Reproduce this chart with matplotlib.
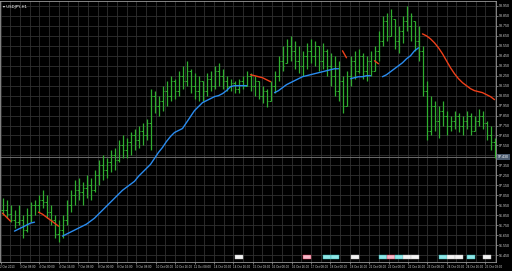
import matplotlib
matplotlib.use("Agg")
import matplotlib.pyplot as plt
import matplotlib.transforms as mtransforms
from matplotlib.patches import Rectangle
import numpy as np

symbol = 'USDJPY,H1'

# bar highs / lows / closes, oldest first
highs = [97.02, 97.00, 96.95, 96.90, 96.95, 96.85, 96.92, 96.98, 97.00, 97.05,
         97.10, 97.05, 96.95, 96.85, 96.80, 96.85, 97.00, 97.10, 97.20, 97.22,
         97.18, 97.25, 97.22, 97.30, 97.40, 97.45, 97.42, 97.50, 97.52, 97.60,
         97.65, 97.62, 97.68, 97.72, 97.75, 97.78, 97.82, 98.12, 98.10, 98.05,
         98.15, 98.20, 98.25, 98.22, 98.30, 98.35, 98.40, 98.32, 98.28, 98.25,
         98.20, 98.28, 98.30, 98.35, 98.38, 98.32, 98.25, 98.22, 98.20, 98.22,
         98.25, 98.30, 98.28, 98.25, 98.20, 98.15, 98.12, 98.20, 98.30, 98.45,
         98.55, 98.62, 98.65, 98.60, 98.55, 98.50, 98.58, 98.62, 98.60, 98.55,
         98.58, 98.52, 98.48, 98.45, 98.40, 98.25, 98.30, 98.45, 98.50, 98.52,
         98.48, 98.45, 98.50, 98.55, 98.70, 98.85, 98.88, 98.92, 98.82, 98.75,
         98.85, 98.95, 98.88, 98.80, 98.75, 98.55, 98.20, 98.05, 98.00, 97.95,
         98.00, 97.90, 97.85, 97.90, 97.88, 97.85, 97.90, 97.88, 97.85, 97.92,
         97.90, 97.80, 97.75, 97.62]
lows = [96.85, 96.82, 96.78, 96.72, 96.75, 96.62, 96.68, 96.78, 96.85, 96.88,
        96.92, 96.82, 96.75, 96.62, 96.58, 96.62, 96.75, 96.88, 96.95, 97.00,
        96.95, 97.02, 97.00, 97.08, 97.15, 97.20, 97.22, 97.28, 97.30, 97.38,
        97.42, 97.42, 97.45, 97.50, 97.52, 97.55, 97.60, 97.50, 97.88, 97.85,
        97.90, 97.95, 98.00, 98.02, 98.05, 98.12, 98.15, 98.08, 98.02, 98.00,
        98.00, 98.05, 98.10, 98.12, 98.15, 98.12, 98.10, 98.10, 98.08, 98.08,
        98.12, 98.15, 98.10, 98.05, 98.02, 97.98, 97.94, 98.00, 98.08, 98.20,
        98.30, 98.38, 98.40, 98.32, 98.28, 98.25, 98.32, 98.38, 98.35, 98.30,
        98.32, 98.25, 98.15, 98.05, 98.00, 97.88, 97.95, 98.15, 98.22, 98.28,
        98.22, 98.20, 98.25, 98.30, 98.40, 98.55, 98.60, 98.65, 98.52, 98.48,
        98.58, 98.70, 98.60, 98.50, 98.40, 98.05, 97.60, 97.65, 97.70, 97.62,
        97.75, 97.65, 97.70, 97.72, 97.68, 97.65, 97.72, 97.65, 97.70, 97.75,
        97.72, 97.60, 97.50, 97.42]
closes = [96.90, 96.86, 96.80, 96.78, 96.80, 96.70, 96.85, 96.95, 96.95, 97.00,
          96.98, 96.88, 96.80, 96.66, 96.70, 96.80, 96.95, 97.05, 97.10, 97.08,
          97.12, 97.15, 97.10, 97.25, 97.35, 97.30, 97.38, 97.45, 97.40, 97.55,
          97.50, 97.58, 97.65, 97.60, 97.70, 97.65, 97.78, 98.05, 97.95, 98.00,
          98.10, 98.05, 98.20, 98.10, 98.25, 98.20, 98.30, 98.15, 98.10, 98.20,
          98.10, 98.22, 98.15, 98.30, 98.25, 98.20, 98.15, 98.18, 98.12, 98.20,
          98.15, 98.25, 98.15, 98.20, 98.05, 98.10, 98.00, 98.15, 98.25, 98.40,
          98.35, 98.55, 98.50, 98.40, 98.35, 98.45, 98.50, 98.45, 98.55, 98.40,
          98.50, 98.35, 98.25, 98.10, 98.20, 97.95, 98.25, 98.40, 98.30, 98.45,
          98.30, 98.40, 98.30, 98.50, 98.60, 98.80, 98.65, 98.85, 98.60, 98.70,
          98.80, 98.75, 98.85, 98.60, 98.50, 98.10, 97.70, 97.95, 97.80, 97.90,
          97.85, 97.75, 97.80, 97.85, 97.75, 97.80, 97.85, 97.70, 97.80, 97.85,
          97.78, 97.65, 97.58, 97.43]

# trend indicator value for every bar; red where it is in a down run
trend_line = [96.87, 96.83, 96.79, 96.69, 96.71, 96.73, 96.75, 96.77, 96.78, 96.88,
              96.86, 96.83, 96.80, 96.77, 96.74, 96.64, 96.66, 96.68, 96.70, 96.72,
              96.74, 96.76, 96.79, 96.82, 96.86, 96.90, 96.94, 96.98, 97.02, 97.06,
              97.10, 97.13, 97.16, 97.19, 97.24, 97.28, 97.32, 97.36, 97.42, 97.48,
              97.53, 97.59, 97.64, 97.68, 97.70, 97.72, 97.78, 97.84, 97.90, 97.94,
              97.98, 98.00, 98.02, 98.04, 98.05, 98.07, 98.10, 98.14, 98.15, 98.15,
              98.15, 98.15, 98.26, 98.25, 98.24, 98.23, 98.21, 98.19, 98.08, 98.10,
              98.13, 98.16, 98.18, 98.20, 98.22, 98.24, 98.25, 98.26, 98.27, 98.28,
              98.29, 98.30, 98.31, 98.32, 98.32, 98.50, 98.43, 98.22, 98.23, 98.24,
              98.24, 98.25, 98.25, 98.40, 98.37, 98.24, 98.26, 98.29, 98.32, 98.35,
              98.38, 98.42, 98.45, 98.50, 98.53, 98.67, 98.65, 98.62, 98.58, 98.53,
              98.47, 98.40, 98.33, 98.27, 98.22, 98.18, 98.15, 98.12, 98.10, 98.09,
              98.08, 98.06, 98.04, 98.01]
down_runs = [(0, 2), (9, 14), (62, 67), (85, 86), (93, 94), (105, 123)]

bid = 97.43

time_labels = ['2 Oct 2013', '3 Oct 08:00', '4 Oct 00:00', '4 Oct 16:00',
               '7 Oct 08:00', '8 Oct 00:00', '8 Oct 16:00', '9 Oct 08:00',
               '10 Oct 00:00', '10 Oct 16:00', '11 Oct 08:00', '14 Oct 00:00',
               '14 Oct 16:00', '15 Oct 08:00', '16 Oct 00:00', '16 Oct 16:00',
               '17 Oct 08:00', '18 Oct 00:00', '18 Oct 16:00', '21 Oct 08:00',
               '22 Oct 00:00', '22 Oct 16:00', '23 Oct 08:00', '24 Oct 00:00',
               '24 Oct 16:00', '25 Oct 08:00']

# news markers along the bottom: bar index, kind
events = [(59, 'w'), (76, 'p'), (81, 'c'), (83, 'c'), (88, 'w'), (95, 'c'),
          (97, 'p'), (99, 'c'), (101, 'w'), (103, 'w'), (110, 'c'), (112, 'w'),
          (114, 'w'), (117, 'c'), (121, 'w')]

BG = '#000000'
GRID = '#303030'
BAR = '#2fae2f'
UP = '#2a8cf0'
DOWN = '#f0401a'
TXT = '#d0d0d0'

fig = plt.figure(figsize=(5.12, 2.71), dpi=100, facecolor=BG)
# 496 px wide plot -> exactly 4 px per bar
ax = fig.add_axes([0.0, 9 / 271, 496 / 512, 261 / 271], facecolor=BG)

n = len(highs)
x = np.arange(n)
opens = np.clip([closes[0]] + closes[:-1], lows, highs)

ax.vlines(x, lows, highs, color=BAR, lw=0.9, zorder=3)
ax.hlines(opens, x - 0.3, x, color=BAR, lw=0.72, zorder=3)
ax.hlines(closes, x, x + 0.3, color=BAR, lw=0.72, zorder=3)

# indicator, split into colour runs
is_down = np.zeros(n, dtype=bool)
for a, b in down_runs:
    is_down[a:b + 1] = True
start = 0
for i in range(1, n + 1):
    if i == n or is_down[i] != is_down[start]:
        ax.plot(x[start:i], trend_line[start:i], color=DOWN if is_down[start] else UP,
                lw=1.0, zorder=4, solid_capstyle='round')
        start = i

ax.axhline(bid, color='#7a7a7a', lw=0.6, zorder=2)

# shift by 1/8 bar so bar centres fall on pixel centres
ax.set_xlim(-0.625, n - 0.625)
ax.set_ylim(96.38, 99.00)

yt = np.arange(96.45, 99.0, 0.1)
ax.yaxis.tick_right()
ax.set_yticks(yt)
ax.set_yticklabels([f'{v:.3f}' for v in yt])
xt = np.arange(len(time_labels)) * 4.85 - 0.5
ax.set_xticks(xt)
ax.set_xticklabels(time_labels)
for lbl in ax.get_xticklabels():
    lbl.set_ha('left')
    lbl.set_fontsize(2.2)
ax.set_xticks(xt + 2.425, minor=True)
ax.grid(True, which='both', color=GRID, lw=0.6, zorder=0)
ax.tick_params(axis='y', which='major', labelsize=2.6, colors=TXT,
               length=1.5, width=0.4, pad=0.8)
ax.tick_params(axis='x', which='major', colors=TXT, length=1.5, width=0.4, pad=0.8)
ax.tick_params(axis='x', which='minor', length=0)
for lbl in ax.get_xticklabels() + ax.get_yticklabels():
    lbl.set_family('Liberation Sans')
for sp in ax.spines.values():
    sp.set_color('#9a9a9a')
    sp.set_linewidth(0.6)

# bid price box on the axis
ax.text(1.004, bid, f'{bid:.3f}', transform=ax.get_yaxis_transform(),
        ha='left', va='center', fontsize=2.6, color='white', family='Liberation Sans',
        bbox=dict(boxstyle='square,pad=0.25', fc='#4c5c70', ec='none'), zorder=6)

# news markers
fills = {'w': '#f2f2f2', 'p': '#f4b8c8', 'c': '#8fe6e6'}
edges = {'w': '#bbbbbb', 'p': '#e03050', 'c': '#30b0b0'}
tr = mtransforms.blended_transform_factory(ax.transData, ax.transAxes)
for idx, kind in events:
    ax.add_patch(Rectangle((idx - 1.0, 0.012), 2.0, 0.016, transform=tr,
                           fc=fills[kind], ec=edges[kind], lw=0.3, zorder=5))

ax.text(0.006, 0.985, '\u25be ' + symbol, transform=ax.transAxes, ha='left', va='top',
        fontsize=2.8, color='white', family='DejaVu Sans')

fig.savefig('out.png', dpi=100, facecolor=BG)
